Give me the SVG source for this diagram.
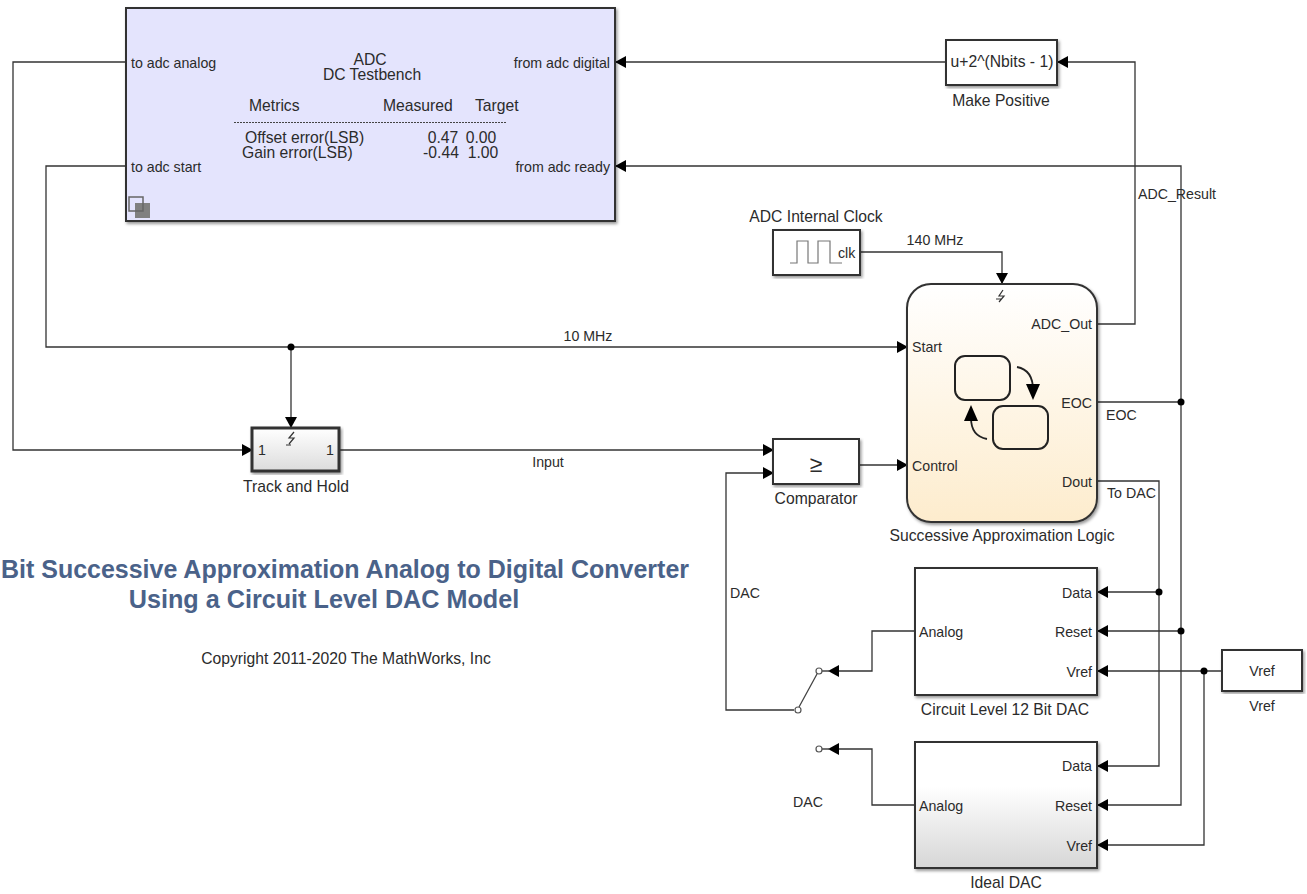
<svg xmlns="http://www.w3.org/2000/svg" width="1307" height="894" viewBox="0 0 1307 894">
<style>
text{font-family:"Liberation Sans",Arial,sans-serif;font-size:14.200px;fill:#2b2b2b}
.l{font-size:15.700px}
.h{font-size:25.200px;font-weight:bold;fill:#4a6289}
.m{text-anchor:middle}.e{text-anchor:end}
.b{stroke:#333;stroke-width:2;filter:url(#sh)}
.ar{fill:none;stroke:#333;stroke-width:1.3;marker-end:url(#a)}
.w{fill:none;stroke:#444;stroke-width:1.3}
.j{fill:#000}
.t{fill:none;stroke:#333;stroke-width:1.2}
.c{fill:#fff;stroke:#555;stroke-width:1.2}
</style>
<defs>
<filter id="sh" x="-5%" y="-5%" width="110%" height="112%"><feDropShadow dx="1.5" dy="2" stdDeviation="1.5" flood-color="#000" flood-opacity=".4"/></filter>
<marker id="a" markerUnits="userSpaceOnUse" markerWidth="12" markerHeight="12" refX="10" refY="6" orient="auto"><path d="M0 0L11 6L0 12Z" fill="#000"/></marker>
<linearGradient id="gc" x1="0" y1="0" x2="0" y2="1"><stop offset="0" stop-color="#fff"/><stop offset="1" stop-color="#fdeccd"/></linearGradient>
<linearGradient id="gg" x1="0" y1="0" x2="0" y2="1"><stop offset="0" stop-color="#fff"/><stop offset=".35" stop-color="#fff"/><stop offset="1" stop-color="#d6d6d6"/></linearGradient>
<linearGradient id="gt" x1="0" y1="0" x2="0" y2="1"><stop offset="0" stop-color="#fff"/><stop offset="1" stop-color="#dcdcdc"/></linearGradient>
</defs>

<g id="connectors">
<path class="ar" d="M126 62H13V450H252"/>
<path class="ar" d="M126 166H46V347H907"/>
<path class="ar" d="M291 347V427"/>
<circle class="j" cx="291" cy="347" r="3.500"/>
<path class="ar" d="M339 450H773"/>
<path class="ar" d="M859 465H907"/>
<path class="ar" d="M794 710H726V473H773"/>
<path class="ar" d="M946 62H616"/>
<path class="ar" d="M1097 324H1135V62H1058"/>
<path class="ar" d="M860 252H1002V283"/>
<path class="ar" d="M1097 402H1181V166H616"/>
<path class="ar" d="M1181 402V805H1098"/>
<circle class="j" cx="1181" cy="402" r="3.500"/>
<path class="ar" d="M1181 631H1098"/>
<circle class="j" cx="1181" cy="631" r="3.500"/>
<path class="ar" d="M1097 481H1159V766H1098"/>
<path class="ar" d="M1159 592H1098"/>
<circle class="j" cx="1159" cy="592" r="3.500"/>
<path class="ar" d="M1222 671H1098"/>
<path class="ar" d="M1204 671V845H1098"/>
<circle class="j" cx="1204" cy="671" r="3.500"/>
<path class="ar" d="M915 631H872V671H829"/>
<path class="ar" d="M915 805H872V749H829"/>
<path class="w" d="M799 707L817 674M821 671H830M821 749H830"/>
<circle class="c" cx="819" cy="671" r="3"/>
<circle class="c" cx="798" cy="710" r="3"/>
<circle class="c" cx="819" cy="749" r="3"/>
<text x="588" y="341" class="m">10 MHz</text>
<text x="548" y="467" class="m">Input</text>
<text x="935" y="245" class="m">140 MHz</text>
<text x="1138" y="199">ADC_Result</text>
<text x="1106" y="420">EOC</text>
<text x="1107" y="498">To DAC</text>
<text x="730" y="598">DAC</text>
<text x="808" y="807" class="m">DAC</text>
</g>

<g id="adc-testbench">
<rect class="b" x="126" y="8" width="489" height="213" fill="#e4e4fd"/>
<text x="131" y="68">to adc analog</text>
<text x="131" y="172">to adc start</text>
<text x="610" y="68" class="e">from adc digital</text>
<text x="610" y="172" class="e">from adc ready</text>
<text x="370" y="65" class="m l">ADC</text>
<text x="372" y="80" class="m l">DC Testbench</text>
<text x="249" y="111" class="l">Metrics</text>
<text x="383" y="111" class="l">Measured</text>
<text x="475" y="111" class="l">Target</text>
<path d="M234 122.500H507" stroke="#444" stroke-width="1" stroke-dasharray="2 1" fill="none"/>
<text x="245" y="143" class="l">Offset error(LSB)</text>
<text x="242" y="158" class="l">Gain error(LSB)</text>
<text x="443" y="143" class="m l">0.47</text>
<text x="441" y="158" class="m l">-0.44</text>
<text x="481" y="143" class="m l">0.00</text>
<text x="483" y="158" class="m l">1.00</text>
<rect x="135" y="203" width="15" height="15" fill="#808080"/>
<rect x="129" y="197" width="14" height="14" fill="none" stroke="#666" stroke-width="1.500"/>
</g>

<g id="make-positive">
<rect class="b" x="946" y="40" width="111" height="45" fill="#fff"/>
<text x="1002" y="67" class="m l">u+2^(Nbits - 1)</text>
<text x="1001" y="106" class="m l">Make Positive</text>
</g>

<g id="adc-clock">
<rect class="b" x="773" y="230" width="87" height="45" fill="#fff"/>
<path d="M790 263H797V241H808V263H818V241H830V263H842" fill="none" stroke="#777" stroke-width="1.200"/>
<text x="838" y="258">clk</text>
<text x="816" y="222" class="m l">ADC Internal Clock</text>
</g>

<g id="track-and-hold">
<rect class="b" x="252" y="428" width="87" height="43" fill="url(#gt)" style="stroke-width:3"/>
<text x="258" y="455">1</text>
<text x="334" y="455" class="e">1</text>
<path class="t" d="M294 432L289 438L294 438L289 444M286 445H291"/>
<text x="296" y="492" class="m l">Track and Hold</text>
</g>

<g id="comparator">
<rect class="b" x="773" y="439" width="86" height="45" fill="#fff"/>
<text x="816" y="472" class="m" style="font-size:23px">≥</text>
<text x="816" y="504" class="m l">Comparator</text>
</g>

<g id="sar-logic">
<rect class="b" x="907" y="284" width="190" height="238" rx="24" fill="url(#gc)"/>
<path class="t" d="M1003 290L999 296L1004 296L999 302M996 299H1001"/>
<text x="912" y="352">Start</text>
<text x="912" y="471">Control</text>
<text x="1092" y="329" class="e">ADC_Out</text>
<text x="1092" y="408" class="e">EOC</text>
<text x="1092" y="487" class="e">Dout</text>
<rect x="955" y="356" width="55" height="44" rx="10" fill="none" stroke="#222" stroke-width="2"/>
<rect x="993" y="406" width="55" height="43" rx="10" fill="none" stroke="#222" stroke-width="2"/>
<path d="M1017 367Q1033 370 1033 390" fill="none" stroke="#222" stroke-width="1.800"/>
<path d="M1026 384H1040L1033 400Z" fill="#000"/>
<path d="M987 439Q971 436 971 418" fill="none" stroke="#222" stroke-width="1.800"/>
<path d="M964 421H978L971 405Z" fill="#000"/>
<text x="1002" y="541" class="m l">Successive Approximation Logic</text>
</g>

<g id="circuit-dac">
<rect class="b" x="915" y="568" width="182" height="127" fill="#fff"/>
<text x="919" y="637">Analog</text>
<text x="1092" y="598" class="e">Data</text>
<text x="1092" y="637" class="e">Reset</text>
<text x="1092" y="677" class="e">Vref</text>
<text x="1005" y="715" class="m l">Circuit Level 12 Bit DAC</text>
</g>

<g id="ideal-dac">
<rect class="b" x="915" y="742" width="182" height="126" fill="url(#gg)"/>
<text x="919" y="811">Analog</text>
<text x="1092" y="771" class="e">Data</text>
<text x="1092" y="811" class="e">Reset</text>
<text x="1092" y="851" class="e">Vref</text>
<text x="1006" y="888" class="m l">Ideal DAC</text>
</g>

<g id="vref">
<rect class="b" x="1222" y="650" width="80" height="41" fill="#fff"/>
<text x="1262" y="676" class="m">Vref</text>
<text x="1262" y="711" class="m">Vref</text>
</g>

<g id="title">
<text x="1" y="578" class="h" textLength="688" lengthAdjust="spacingAndGlyphs">Bit Successive Approximation Analog to Digital Converter</text>
<text x="324" y="608" class="m h">Using a Circuit Level DAC Model</text>
<text x="346" y="664" class="m l">Copyright 2011-2020 The MathWorks, Inc</text>
</g>
</svg>
